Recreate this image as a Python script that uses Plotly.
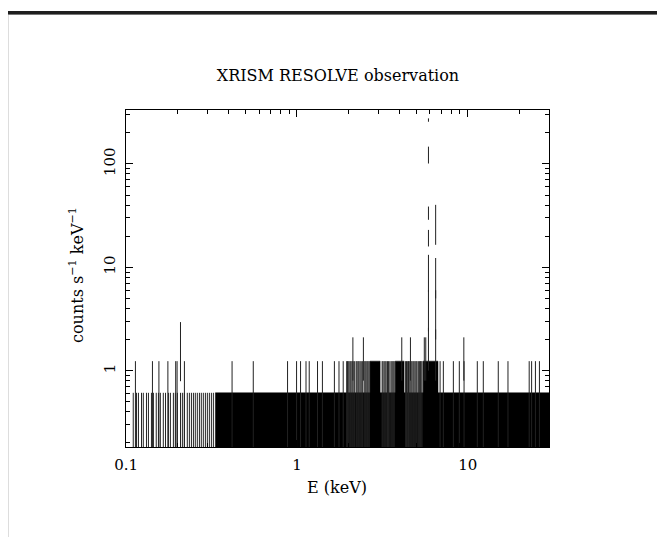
import plotly.graph_objects as go

# ---- data ----
# continuous "filled" stretches where bins are too dense to resolve (keV, counts/s/keV)
band_lo_keV = [0.333, 2.68, 3.76, 5.48]
band_hi_keV = [30.0, 3.07, 4.24, 6.70]
band_rate = [0.61, 1.235, 1.235, 1.235]

# isolated single-count bins at low energy (error bar top ~0.61)
low_bins_keV = [0.110, 0.115, 0.118, 0.123, 0.126, 0.1315, 0.135, 0.1406, 0.1444,
                0.150, 0.1545, 0.1585, 0.165, 0.170, 0.1768, 0.1815, 0.189, 0.194,
                0.1995, 0.208, 0.2134, 0.219, 0.228, 0.2345, 0.241, 0.2476, 0.254,
                0.261, 0.2685, 0.2754, 0.283, 0.291, 0.2988, 0.307, 0.3155, 0.324]
low_bins_rate = 0.61

# two-count bins (error bar top ~1.235)
two_bins_keV = [0.1133, 0.1425, 0.1555, 0.1755, 0.195, 0.1987, 0.2193, 0.417, 0.555,
                0.881, 0.995, 1.05, 1.13, 1.18, 1.32, 1.41, 1.657, 1.763, 1.866,
                1.956, 1.975, 1.995, 2.02, 2.05, 2.075, 2.106, 2.135, 2.178, 2.223,
                2.25, 2.283, 2.31, 2.345, 2.38, 2.426, 2.476, 2.51, 2.543, 2.58,
                2.612, 2.65, 3.154, 3.19, 3.24, 3.285, 3.33, 3.39, 3.44, 3.5, 3.56,
                3.61, 3.66, 3.71, 4.33, 4.38, 4.45, 4.50, 4.54, 4.60, 4.66, 4.72,
                4.79, 4.85, 4.92, 4.99, 5.05, 5.14, 5.23, 5.28, 5.33, 5.40, 6.89,
                7.20, 8.24, 8.93, 9.52, 11.38, 12.34, 15.10, 17.21, 22.91, 23.67,
                24.92, 26.30]
two_bins_rate = 1.235

# error bars of higher bins (keV, low, high)
err_keV = [0.208, 2.126, 2.45, 4.11, 4.62, 5.57, 5.68, 9.49,
           5.89, 5.89, 5.89, 5.89, 5.89, 5.89, 5.89,
           6.49, 6.49, 6.49, 6.49]
err_low = [0.79, 0.8, 0.8, 0.8, 0.8, 0.8, 0.8, 0.8,
           256, 101, 28.8, 15.9, 5.8, 2.4, 1.0,
           16.5, 5.0, 2.0, 0.8]
err_high = [2.95, 2.1, 2.1, 2.1, 2.1, 2.1, 2.1, 2.1,
            276, 147, 38.7, 23.0, 13.2, 6.0, 2.6,
            40.2, 12.3, 6.0, 2.5]

x_ticks = [0.1, 1, 10]
x_ticktext = ["0.1", "1", "10"]
y_ticks = [1, 10, 100]
y_ticktext = ["1", "10", "100"]
x_minor = [0.2, 0.3, 0.4, 0.5, 0.6, 0.7, 0.8, 0.9, 2, 3, 4, 5, 6, 7, 8, 9, 20, 30]
y_minor = [0.2, 0.3, 0.4, 0.5, 0.6, 0.7, 0.8, 0.9, 2, 3, 4, 5, 6, 7, 8, 9,
           20, 30, 40, 50, 60, 70, 80, 90, 200, 300]

FLOOR = 0.05  # below the visible y range
FONT = "DejaVu Serif"
LINE = "#222222"

fig = go.Figure()

for lo, hi, r in zip(band_lo_keV, band_hi_keV, band_rate):
    fig.add_trace(go.Scatter(x=[lo, hi, hi, lo, lo], y=[FLOOR, FLOOR, r, r, FLOOR],
                             mode="lines", fill="toself", fillcolor="black",
                             line=dict(color="black", width=0.5),
                             hoverinfo="skip", showlegend=False))

def segs(xs, lows, highs):
    X, Y = [], []
    for x, lo, hi in zip(xs, lows, highs):
        X += [x, x, None]
        Y += [lo, hi, None]
    return X, Y

X, Y = segs(low_bins_keV, [FLOOR] * len(low_bins_keV), [low_bins_rate] * len(low_bins_keV))
fig.add_trace(go.Scatter(x=X, y=Y, mode="lines", line=dict(color=LINE, width=1),
                         hoverinfo="skip", showlegend=False))
X, Y = segs(two_bins_keV, [FLOOR] * len(two_bins_keV), [two_bins_rate] * len(two_bins_keV))
fig.add_trace(go.Scatter(x=X, y=Y, mode="lines", line=dict(color=LINE, width=1),
                         hoverinfo="skip", showlegend=False))
X, Y = segs(err_keV, err_low, err_high)
fig.add_trace(go.Scatter(x=X, y=Y, mode="lines", line=dict(color=LINE, width=1),
                         hoverinfo="skip", showlegend=False))

axis_common = dict(
    type="log", showgrid=False, zeroline=False, showline=True, linecolor="black",
    linewidth=1, mirror="allticks", ticks="inside", ticklen=7, tickcolor="black",
    tickwidth=1, tickfont=dict(family=FONT, size=15, color="black"),
)

fig.update_xaxes(range=[-1.001, 1.476], tickmode="array", tickvals=x_ticks,
                 ticktext=x_ticktext, ticklabelstandoff=4,
                 minor=dict(tickmode="array", tickvals=x_minor, ticks="inside", ticklen=4,
                            tickcolor="black", tickwidth=1, showgrid=False),
                 **axis_common)
fig.update_yaxes(range=[-0.739, 2.522], tickmode="array", tickvals=y_ticks,
                 ticktext=y_ticktext, tickangle=-90, ticklabelstandoff=4,
                 minor=dict(tickmode="array", tickvals=y_minor, ticks="inside", ticklen=4,
                            tickcolor="black", tickwidth=1, showgrid=False),
                 **axis_common)

OFF = 8  # page body margin
W, H = 665 - OFF, 537 - OFF
L, R, T, B = 118, 116, 102, 90
pw, ph = W - L - R, H - T - B

def px(page_x):
    return (page_x - OFF - L) / pw

def py(page_y):
    return (H - B - (page_y - OFF)) / ph

fig.update_layout(
    width=W, height=H, margin=dict(l=L, r=R, t=T, b=B, autoexpand=False),
    paper_bgcolor="white", plot_bgcolor="white",
    title=dict(text="XRISM RESOLVE observation", x=px(338), xref="paper",
               xanchor="center", y=1 - (75 - OFF) / H, yanchor="middle",
               font=dict(family=FONT, size=16, color="black")),
    annotations=[
        dict(text="E (keV)", xref="paper", yref="paper", x=px(337), y=py(487),
             showarrow=False, xanchor="center", yanchor="middle",
             font=dict(family=FONT, size=16, color="black")),
        dict(text="counts s<sup>−1</sup> keV<sup>−1</sup>", xref="paper", yref="paper",
             x=px(76), y=py(275), textangle=-90, showarrow=False,
             xanchor="center", yanchor="middle",
             font=dict(family=FONT, size=16, color="black")),
    ],
    shapes=[
        dict(type="rect", xref="paper", yref="paper", x0=px(8), x1=px(670),
             y0=py(14), y1=py(11), fillcolor="#1e1e1e", line=dict(width=0), layer="above"),
        dict(type="line", xref="paper", yref="paper", x0=px(8), x1=px(670),
             y0=py(14.5), y1=py(14.5), line=dict(color="#777777", width=1)),
        dict(type="line", xref="paper", yref="paper", x0=px(8.5), x1=px(8.5),
             y0=py(15), y1=py(540), line=dict(color="#dddddd", width=1)),
    ],
)

fig.write_html("out.html")
